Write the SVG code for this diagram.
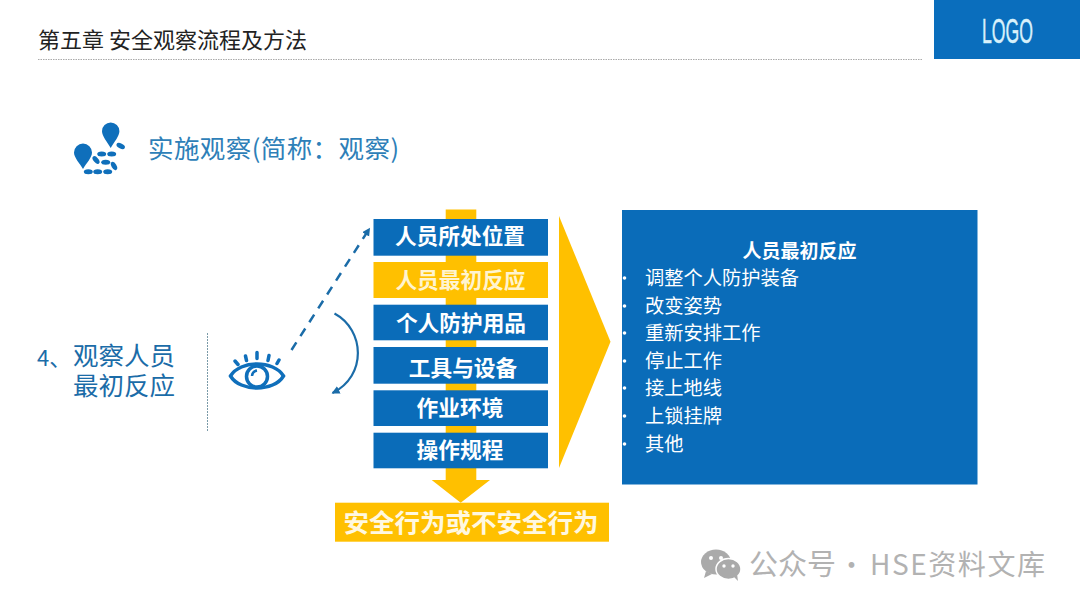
<svg xmlns="http://www.w3.org/2000/svg" width="1080" height="607" viewBox="0 0 1080 607">
<style>
text{font-family:"Noto Sans CJK SC","Liberation Sans",sans-serif}
.blue{fill:#0A6CB9}
.yel{fill:#FFC000}
.lab{font-size:21.700px;font-weight:700;fill:#fff;text-anchor:middle}
.li{font-size:19.250px;fill:#fff}
.ic{fill:#0F6FBB}
.bl{fill:#fff}
.wm{fill:#b2b2b2}
</style>
<defs>
<marker id="ah" markerWidth="10" markerHeight="10" refX="7" refY="4" orient="auto" markerUnits="userSpaceOnUse"><path d="M0 0L8 4L0 8Z" fill="#1B6CA8"/></marker>
<ellipse id="pill" rx="4.500" ry="2.500"/>
</defs>
<rect width="1080" height="607" fill="#fff"/>
<g id="header">
<text x="38" y="47.500" font-size="22" fill="#222">第五章 安全观察流程及方法</text>
<line x1="38" y1="59.500" x2="922" y2="59.500" stroke="#aaa" stroke-width="1" stroke-dasharray="1.500 1"/>
</g>
<g id="logo">
<rect x="934" y="0" width="146" height="59" fill="#0A6EBD"/>
<text transform="translate(1007.500 43) scale(.505 1)" x="0" y="0" font-size="35" fill="#D8F1FB" stroke="#D8F1FB" stroke-width="0.500" text-anchor="middle" style="font-family:'Liberation Sans',sans-serif">LOGO</text>
</g>
<g id="subtitle">
<path class="ic" d="M110.700 122.500a8.700 8.700 0 0 1 8.700 8.700c0 4.500-5.200 11-8.700 16.700c-3.500-5.700-8.700-12.200-8.700-16.700a8.700 8.700 0 0 1 8.700-8.700Z"/>
<path class="ic" d="M83 143.500a9 9 0 0 1 9 9c0 5-5.500 10.500-9 16.500c-3.500-6-9-11.500-9-16.500a9 9 0 0 1 9-9Z"/>
<g class="ic">
<use href="#pill" transform="translate(120.700 146) rotate(25)"/>
<use href="#pill" transform="translate(101.700 154)"/>
<use href="#pill" transform="translate(111.700 154)"/>
<use href="#pill" transform="translate(96 160) rotate(50)"/>
<use href="#pill" transform="translate(105.700 162.300)"/>
<use href="#pill" transform="translate(114 166) rotate(60)"/>
<use href="#pill" transform="translate(88.300 171.700)"/>
<use href="#pill" transform="translate(97.700 171.700)"/>
<use href="#pill" transform="translate(107.700 171.700)"/>
</g>
<text x="148" y="158" font-size="25.500" fill="#2E7FB8" textLength="251">实施观察(简称：观察)</text>
</g>
<g id="left-label" fill="#1B6CA8">
<text x="37" y="366" font-size="22">4、</text>
<text x="73" y="365" font-size="25.500">观察人员</text>
<text x="73" y="395" font-size="25.500">最初反应</text>
<line x1="207.500" y1="333" x2="207.500" y2="431" stroke="#7a9aa8" stroke-width="1" stroke-dasharray="2 1"/>
</g>
<g id="eye" fill="none" stroke="#0F6FBB" stroke-width="3.500">
<path d="M230.500 376C240 360 274 360 283.500 376C274 392 240 392 230.500 376Z"/>
<circle cx="257" cy="376.500" r="10.500"/>
<path d="M252 376a6 6 0 0 1 5-5.500" stroke-width="2.500"/>
<path stroke-linecap="round" d="M235 361L238 364.500M245.500 356L246.500 360.500M257 352.500V358.500M269 355.500L268 360.500M279 360L277 363.500"/>
</g>
<g id="connectors" fill="none" stroke="#1B6CA8">
<path d="M291.500 350L369.500 228.500" stroke-width="2.500" stroke-dasharray="9 7.500" marker-end="url(#ah)"/>
<path d="M334.500 313.500C365 330 367 376 332.500 393" stroke-width="2.200" marker-end="url(#ah)"/>
</g>
<g id="flow-arrow">
<path class="yel" d="M445.700 209.500H476.300V480H490L460.700 502.700L431.700 480H445.700Z"/>
</g>
<g id="n1"><rect class="blue" x="373.500" y="219" width="174.500" height="36.700"/><text class="lab" x="460" y="244">人员所处位置</text></g>
<g id="n2"><rect class="yel" x="373.500" y="262" width="174.500" height="36"/><text class="lab" x="460.500" y="288" style="fill:#FFF4D0">人员最初反应</text></g>
<g id="n3"><rect class="blue" x="373.500" y="304.700" width="174.500" height="35.600"/><text class="lab" x="461" y="331">个人防护用品</text></g>
<g id="n4"><rect class="blue" x="373.500" y="347" width="174.500" height="36.700"/><text class="lab" x="463" y="376">工具与设备</text></g>
<g id="n5"><rect class="blue" x="373.500" y="390.300" width="174.500" height="35.700"/><text class="lab" x="460" y="416">作业环境</text></g>
<g id="n6"><rect class="blue" x="373.500" y="432.700" width="174.500" height="35.600"/><text class="lab" x="460" y="458">操作规程</text></g>
<g id="result"><rect class="yel" x="335" y="502.700" width="274" height="39"/><text class="lab" x="471" y="532" style="font-size:25.500px;fill:#FFF8E0">安全行为或不安全行为</text></g>
<g id="chevron"><path class="yel" d="M559 216L610.500 341.700L559 468Z"/></g>
<g id="detail">
<rect class="blue" x="622" y="210" width="355.500" height="274.500"/>
<text class="lab" x="799.500" y="258" style="font-size:19px">人员最初反应</text>
<circle class="bl" cx="624.500" cy="278" r="1.800"/><circle class="bl" cx="624.500" cy="306" r="1.800"/><circle class="bl" cx="624.500" cy="333" r="1.800"/><circle class="bl" cx="624.500" cy="361" r="1.800"/><circle class="bl" cx="624.500" cy="388" r="1.800"/><circle class="bl" cx="624.500" cy="416" r="1.800"/><circle class="bl" cx="624.500" cy="444" r="1.800"/>
<text class="li" x="645" y="285">调整个人防护装备</text>
<text class="li" x="645" y="313">改变姿势</text>
<text class="li" x="645" y="340">重新安排工作</text>
<text class="li" x="645" y="368">停止工作</text>
<text class="li" x="645" y="395">接上地线</text>
<text class="li" x="645" y="423">上锁挂牌</text>
<text class="li" x="645" y="451">其他</text>
</g>
<g id="watermark">
<ellipse cx="716" cy="562" rx="15" ry="12.500" fill="#aaa"/>
<path d="M706 571l-2 7l8-4Z" fill="#aaa"/>
<ellipse cx="728.500" cy="569" rx="12.500" ry="10.500" fill="#aaa" stroke="#fff" stroke-width="1.500"/>
<path d="M734 577l4 4l-1-7Z" fill="#aaa"/>
<circle cx="711" cy="558" r="2" fill="#fff"/><circle cx="721" cy="558" r="2" fill="#fff"/><circle cx="724" cy="566" r="1.700" fill="#fff"/><circle cx="733" cy="566" r="1.700" fill="#fff"/>
<text class="wm" x="749" y="575" font-size="29" textLength="87">公众号</text>
<text class="wm" x="838" y="575" font-size="27">·</text>
<text class="wm" x="870" y="575" font-size="28" textLength="175">HSE资料文库</text>
</g>
</svg>
